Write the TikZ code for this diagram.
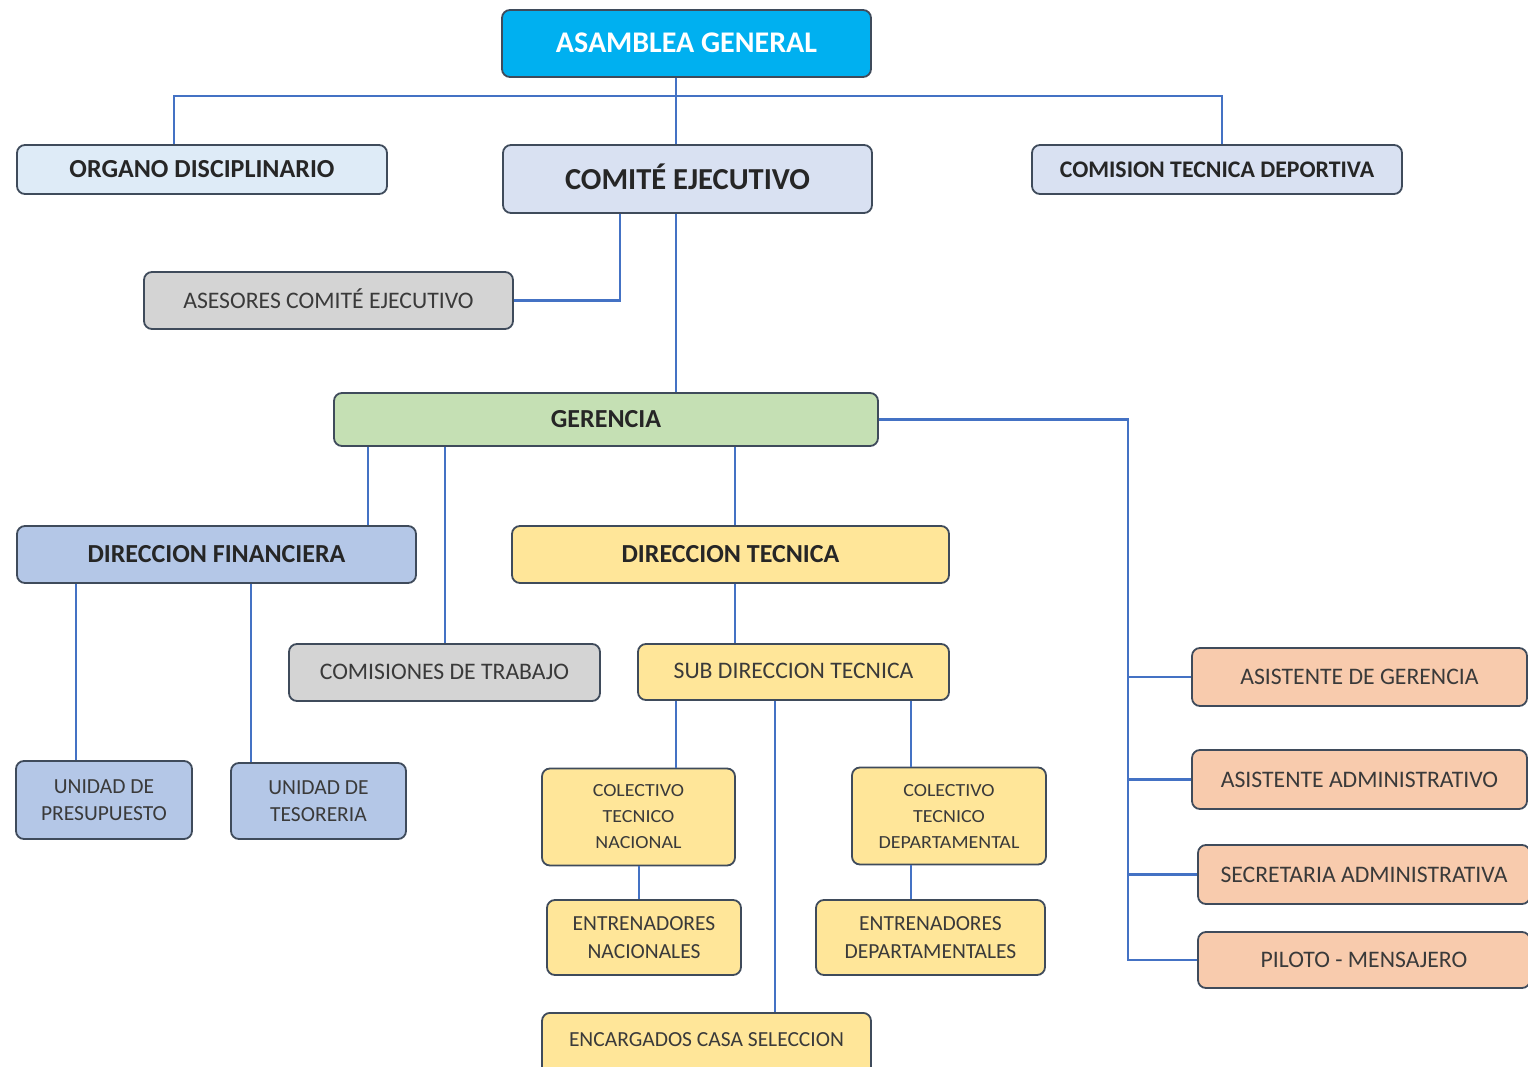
\documentclass[tikz,border=0pt]{standalone}
\usepackage{fontspec}
\setmainfont{Carlito}
\newfontfamily\condfont{Carlito}[FakeStretch=1.08]
\definecolor{lineblue}{HTML}{4472C4}
\definecolor{bordc}{HTML}{3F4B5B}
\definecolor{cagb}{HTML}{00B0F0}
\definecolor{cce}{HTML}{D9E1F2}
\definecolor{cod}{HTML}{DEEBF7}
\definecolor{cgrey}{HTML}{D4D4D4}
\definecolor{cgreen}{HTML}{C5E0B4}
\definecolor{cblue}{HTML}{B4C7E7}
\definecolor{cyell}{HTML}{FFE699}
\definecolor{corange}{HTML}{F8CBAD}
\definecolor{txt}{HTML}{262626}
\definecolor{txtg}{HTML}{3A3A3A}
\tikzset{
  box/.style={draw=bordc, line width=1.8pt, rounded corners=8pt, inner sep=0pt, align=center, text=txt},
  conn/.style={draw=lineblue, line width=2.6pt},
  boldtxt/.style={font=\fontsize{26}{30}\selectfont\bfseries},
  regtxt/.style={font=\fontsize{23.7}{28}\selectfont, text=txtg},
  twoline/.style={font=\fontsize{21.5}{27.5}\selectfont, text=txtg},
  orgtxt/.style={font=\fontsize{23.7}{28}\selectfont, text=txtg},
  cond/.style={font=\fontsize{18.5}{26}\selectfont\condfont, text=txtg},
}
\begin{document}
\begin{tikzpicture}[x=1pt,y=-1pt]
\useasboundingbox[fill=white] (0,0) rectangle (1528,1067);
\begin{scope}
\clip (0,0) rectangle (1528,1067);
% nodes
\node[box, fill=cagb, minimum width=369pt, minimum height=67pt, text=white, font=\fontsize{30}{32}\selectfont\bfseries] (ag) at (686.5,43.5) {\raisebox{2pt}{ASAMBLEA GENERAL}};
\node[box, boldtxt, fill=cod, minimum width=370pt, minimum height=49pt] (od) at (202,169.5) {\raisebox{-3pt}{ORGANO DISCIPLINARIO}};
\node[box, fill=cce, minimum width=369pt, minimum height=68pt, font=\fontsize{30.5}{32}\selectfont\bfseries] (ce) at (687.5,179) {\raisebox{5pt}{COMITÉ EJECUTIVO}};
\node[box, fill=cce, minimum width=370pt, minimum height=49pt, font=\fontsize{23.8}{28}\selectfont\bfseries] (ctdep) at (1217,169.5) {\raisebox{-2pt}{COMISION TECNICA DEPORTIVA}};
\node[box, regtxt, fill=cgrey, minimum width=369pt, minimum height=57pt] (as) at (328.5,300.5) {\raisebox{4pt}{ASESORES COMITÉ EJECUTIVO}};
\node[box, boldtxt, fill=cgreen, minimum width=544pt, minimum height=53pt] (ger) at (606,419.5) {\raisebox{-2pt}{GERENCIA}};
\node[box, boldtxt, fill=cblue, minimum width=399pt, minimum height=57pt] (df) at (216.5,554.5) {DIRECCION FINANCIERA};
\node[box, boldtxt, fill=cyell, minimum width=437pt, minimum height=57pt] (dt) at (730.5,554.5) {DIRECCION TECNICA};
\node[box, regtxt, fill=cgrey, minimum width=311pt, minimum height=57pt] (cdt) at (444.5,672.5) {\raisebox{2pt}{COMISIONES DE TRABAJO}};
\node[box, regtxt, fill=cyell, minimum width=311pt, minimum height=56pt] (sdt) at (793.5,672) {\raisebox{2pt}{SUB DIRECCION TECNICA}};
\node[box, twoline, fill=cblue, minimum width=176pt, minimum height=78pt] (up) at (104,800) {UNIDAD DE\\PRESUPUESTO};
\node[box, twoline, fill=cblue, minimum width=175pt, minimum height=76pt] (ut) at (318.5,801) {UNIDAD DE\\TESORERIA};
\node[box, cond, fill=cyell, minimum width=193pt, minimum height=97pt] (ctn) at (638.5,817) {COLECTIVO\\TECNICO\\NACIONAL};
\node[box, cond, fill=cyell, minimum width=194pt, minimum height=97pt] (ctd) at (949,816) {COLECTIVO\\TECNICO\\DEPARTAMENTAL};
\node[box, twoline, fill=cyell, minimum width=194pt, minimum height=75pt] (en) at (644,937.5) {ENTRENADORES\\NACIONALES};
\node[box, twoline, fill=cyell, minimum width=229pt, minimum height=75pt] (ed) at (930.5,937.5) {ENTRENADORES\\DEPARTAMENTALES};
\node[box, fill=cyell, minimum width=329pt, minimum height=70pt, anchor=north, font=\fontsize{21.5}{26}\selectfont, text=txtg, text depth=0pt] (ecs) at (706.5,1012) {\raisebox{16pt}{ENCARGADOS CASA SELECCION}};
\node[box, orgtxt, fill=corange, minimum width=335pt, minimum height=58pt] (asg) at (1359.5,677) {ASISTENTE DE GERENCIA};
\node[box, orgtxt, fill=corange, minimum width=335pt, minimum height=59pt] (asa) at (1359.5,779.5) {ASISTENTE ADMINISTRATIVO};
\node[box, orgtxt, fill=corange, minimum width=332pt, minimum height=59pt] (sa) at (1364,874.5) {SECRETARIA ADMINISTRATIVA};
\node[box, orgtxt, fill=corange, minimum width=332pt, minimum height=56pt] (pm) at (1364,960) {PILOTO - MENSAJERO};
\end{scope}
% connectors
\coordinate (hbar) at (676,96);
\coordinate (rbar) at (1128,421);
\draw[conn] (ag.south -| hbar) -- (ce.north -| hbar);
\draw[conn] (od.north -| 174,0) |- (hbar) -| (ctdep.north -| 1222,0);
\draw[conn] (ce.south -| 620,0) |- (as.east);
\draw[conn] (ce.south -| hbar) -- (ger.north -| hbar);
\draw[conn] (ger.south -| 368,0) -- (df.north -| 368,0);
\draw[conn] (ger.south -| 445,0) -- (cdt.north -| 445,0);
\draw[conn] (ger.south -| 735,0) -- (dt.north -| 735,0);
\draw[conn] (ger.east) -| (pm.west -| rbar) -- (pm.west);
\draw[conn] (asg.west -| rbar) -- (asg.west);
\draw[conn] (asa.west -| rbar) -- (asa.west);
\draw[conn] (sa.west -| rbar) -- (sa.west);
\draw[conn] (df.south -| 76,0) -- (up.north -| 76,0);
\draw[conn] (df.south -| 251,0) -- (ut.north -| 251,0);
\draw[conn] (dt.south -| 735,0) -- (sdt.north -| 735,0);
\draw[conn] (sdt.south -| 676,0) -- (ctn.north -| 676,0);
\draw[conn] (sdt.south -| 775,0) -- (ecs.north -| 775,0);
\draw[conn] (sdt.south -| 911,0) -- (ctd.north -| 911,0);
\draw[conn] (ctn.south -| 639,0) -- (en.north -| 639,0);
\draw[conn] (ctd.south -| 911,0) -- (ed.north -| 911,0);
\end{tikzpicture}
\end{document}
